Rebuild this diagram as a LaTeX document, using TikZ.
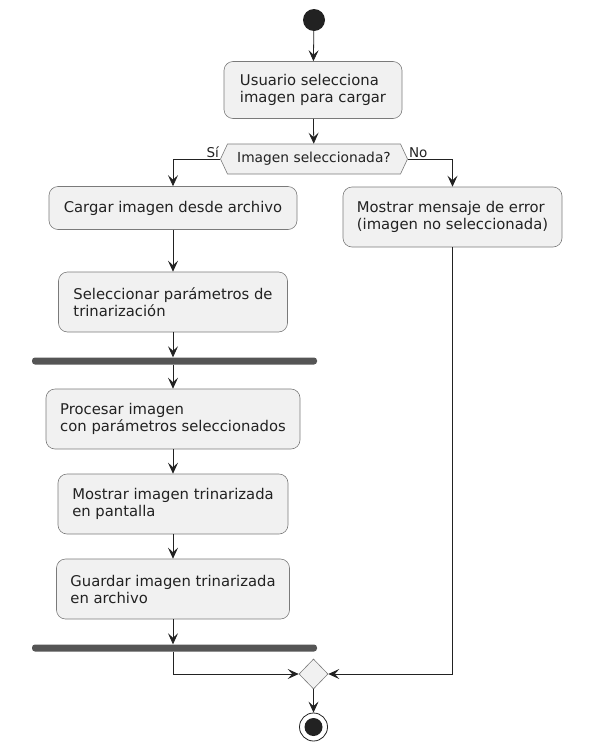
\documentclass[tikz,border=0pt]{standalone}
\usepackage{fontspec}
\setmainfont{DejaVu Sans}
\usetikzlibrary{shapes,arrows.meta,positioning}
\definecolor{actfill}{HTML}{F1F1F1}
\definecolor{txt}{HTML}{222222}
\definecolor{edge}{HTML}{7A7A7A}
\definecolor{barcol}{HTML}{555555}

\tikzset{
  act/.style={draw=edge, line width=0.6pt, fill=actfill, rounded corners=9pt, align=left, text=txt, font=\fontsize{14.8}{17}\selectfont},
  flow/.style={-{Stealth[length=11pt,width=10pt,inset=4.5pt]}, line width=0.8pt, draw=txt},
  bar/.style={fill=barcol, draw=none, rounded corners=3pt, minimum width=285, minimum height=7, inner sep=0pt},
  lbl/.style={text=txt, font=\fontsize{13.5}{15}\selectfont, inner sep=1pt},
}

\begin{document}
\begin{tikzpicture}[x=1pt, y=-1pt]
    \useasboundingbox (0,0) rectangle (606,750);

    \node[circle, fill=txt, minimum size=22, inner sep=0pt] (start) at (314,20) {};

    \node[act, minimum width=178, minimum height=57] (usr) at (313,90) {Usuario selecciona\\imagen para cargar};
    \node[act, signal, signal to=west and east, signal pointer angle=130, rounded corners=0pt, minimum width=187, minimum height=30, inner sep=1pt, font=\fontsize{13.8}{16}\selectfont] (dec) at (314,159) {Imagen seleccionada?};

    \node[act, minimum width=248, minimum height=43] (carg) at (173,208) {Cargar imagen desde archivo};
    \node[act, minimum width=229, minimum height=60] (sel) at (173,302) {Seleccionar parámetros de\\trinarización};
    \node[bar] (bar1) at (174.5,361) {};
    \node[act, minimum width=254, minimum height=60] (proc) at (173,419) {Procesar imagen\\con parámetros seleccionados};
    \node[act, minimum width=230, minimum height=60] (most) at (173,504) {Mostrar imagen trinarizada\\en pantalla};
    \node[act, minimum width=233, minimum height=60] (guar) at (173,589) {Guardar imagen trinarizada\\en archivo};
    \node[bar] (bar2) at (174.5,648) {};

    \node[act, minimum width=219, minimum height=60] (err) at (452.5,217) {Mostrar mensaje de error\\(imagen no seleccionada)};

    \node[diamond, draw=edge, line width=0.6pt, fill=actfill, minimum width=29, minimum height=30, inner sep=0pt] (merge) at (313.5,674) {};
    \node[circle, draw=txt, line width=0.8pt, fill=white, minimum size=28, inner sep=0pt] (stop) at (313.5,727) {};
    \node[circle, fill=txt, minimum size=18, inner sep=0pt] at (stop) {};

    % branches of the decision
    \node[lbl, anchor=south east] at (dec.west) {Sí};
    \node[lbl, anchor=south west] at (dec.east) {No};

    \draw[flow] (start) -- (usr);
    \draw[flow] (usr) -- (dec);
    \draw[flow] (dec.west) -| (carg.north);
    \draw[flow] (dec.east) -| (err.north);
    \draw[flow] (carg) -- (sel);
    \draw[flow] (sel.south) -- (sel.south |- bar1.north);
    \draw[flow] (bar1.south -| proc) -- (proc);
    \draw[flow] (proc) -- (most);
    \draw[flow] (most) -- (guar);
    \draw[flow] (guar.south) -- (guar.south |- bar2.north);
    \draw[flow] (bar2.south -| guar) |- (merge.west);
    \draw[flow] (err.south) |- (merge.east);
    \draw[flow] (merge) -- (stop);
\end{tikzpicture}
\end{document}
